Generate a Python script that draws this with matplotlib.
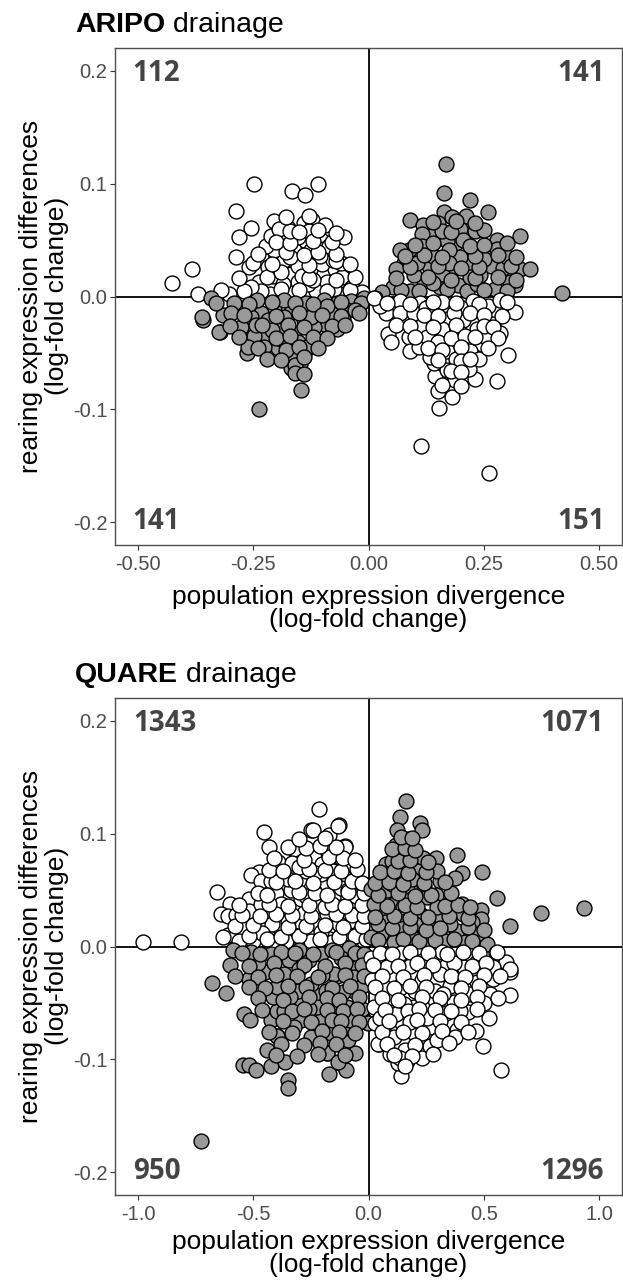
import matplotlib
matplotlib.use('Agg')
import matplotlib.pyplot as plt
from matplotlib.ticker import FixedLocator, FixedFormatter

# ARIPO drainage: (population divergence, rearing difference) per quadrant
aripo_ul = [(-0.249, 0.100), (-0.165, 0.093), (-0.138, 0.090), (-0.110, 0.100), (-0.287, 0.076), (-0.256, 0.061),
            (-0.280, 0.053), (-0.206, 0.067), (-0.174, 0.061), (-0.140, 0.065), (-0.122, 0.068), (-0.094, 0.063),
            (-0.053, 0.053), (-0.141, 0.050), (-0.104, 0.050), (-0.186, 0.044), (-0.287, 0.035), (-0.233, 0.035),
            (-0.260, 0.026), (-0.384, 0.024), (-0.426, 0.012), (-0.370, 0.002), (-0.302, 0.002), (-0.237, 0.013),
            (-0.208, 0.018), (-0.168, 0.020), (-0.136, 0.031), (-0.114, 0.025), (-0.097, 0.020), (-0.073, 0.024),
            (-0.057, 0.017), (-0.035, 0.008), (-0.053, 0.002), (-0.114, 0.005), (-0.174, 0.004), (-0.213, 0.002),
            (-0.154, 0.027), (-0.219, 0.026), (-0.183, 0.032), (-0.100, 0.029), (-0.078, 0.032), (-0.206, 0.041),
            (-0.161, 0.041), (-0.125, 0.041), (-0.097, 0.042), (-0.222, 0.045), (-0.154, 0.053), (-0.212, 0.054),
            (-0.089, 0.013), (-0.132, 0.011), (-0.154, 0.013), (-0.233, 0.005), (-0.186, 0.011), (-0.255, 0.008),
            (-0.075, 0.007), (-0.190, 0.022), (-0.145, 0.018), (-0.120, 0.015), (-0.170, 0.035), (-0.105, 0.036),
            (-0.195, 0.060), (-0.130, 0.058), (-0.060, 0.030), (-0.015, 0.004), (-0.085, 0.045),
            (-0.320, 0.006), (-0.270, 0.005), (-0.190, 0.007), (-0.150, 0.006), (-0.090, 0.005), (-0.040, 0.006),
            (-0.280, 0.016), (-0.220, 0.017), (-0.130, 0.016), (-0.070, 0.015), (-0.030, 0.017), (-0.250, 0.030),
            (-0.210, 0.029), (-0.130, 0.028), (-0.070, 0.031), (-0.040, 0.029), (-0.240, 0.038), (-0.180, 0.039),
            (-0.140, 0.037), (-0.110, 0.039), (-0.070, 0.038), (-0.200, 0.048), (-0.170, 0.047), (-0.120, 0.049),
            (-0.080, 0.048), (-0.170, 0.058), (-0.150, 0.057), (-0.110, 0.059), (-0.070, 0.056), (-0.180, 0.070),
            (-0.130, 0.071)]
aripo_ll = [(-0.237, -0.100), (-0.147, -0.083), (-0.168, -0.063), (-0.148, -0.060), (-0.264, -0.050), (-0.197, -0.046),
            (-0.132, -0.046), (-0.359, -0.021), (-0.323, -0.031), (-0.269, -0.033), (-0.226, -0.037), (-0.161, -0.032),
            (-0.097, -0.024), (-0.069, -0.029), (-0.194, -0.027), (-0.248, -0.035), (-0.316, -0.016), (-0.266, -0.009),
            (-0.205, -0.009), (-0.168, -0.014), (-0.111, -0.011), (-0.068, -0.006), (-0.021, -0.006), (-0.341, -0.001),
            (-0.291, -0.006), (-0.233, -0.015), (-0.140, -0.021), (-0.118, -0.027), (-0.183, -0.018), (-0.219, -0.021),
            (-0.255, -0.018), (-0.298, -0.015), (-0.039, -0.004), (-0.046, -0.012), (-0.082, -0.015), (-0.154, -0.040),
            (-0.183, -0.039), (-0.262, -0.045), (-0.226, -0.045), (-0.111, -0.039), (-0.161, -0.053), (-0.276, -0.027),
            (-0.010, -0.001), (-0.097, -0.003), (-0.136, -0.006), (-0.183, -0.003), (-0.241, -0.003), (-0.160, -0.061),
            (-0.134, -0.045), (-0.017, -0.006), (-0.361, -0.018), (-0.325, -0.031), (-0.210, -0.030), (-0.175, -0.025),
            (-0.125, -0.018), (-0.245, -0.025), (-0.090, -0.008), (-0.055, -0.020), (-0.030, -0.012),
            (-0.330, -0.006), (-0.260, -0.007), (-0.210, -0.005), (-0.160, -0.006), (-0.120, -0.007), (-0.060, -0.005),
            (-0.270, -0.016), (-0.200, -0.017), (-0.150, -0.015), (-0.100, -0.016), (-0.060, -0.017), (-0.020, -0.015),
            (-0.300, -0.026), (-0.230, -0.025), (-0.140, -0.027), (-0.080, -0.026), (-0.050, -0.025), (-0.280, -0.036),
            (-0.200, -0.037), (-0.170, -0.035), (-0.120, -0.036), (-0.090, -0.037), (-0.240, -0.046), (-0.180, -0.047),
            (-0.150, -0.045), (-0.110, -0.046), (-0.220, -0.055), (-0.190, -0.056), (-0.140, -0.054), (-0.160, -0.068),
            (-0.140, -0.069)]
aripo_ur = [(0.168, 0.117), (0.164, 0.092), (0.220, 0.085), (0.260, 0.075), (0.163, 0.075), (0.089, 0.068),
            (0.119, 0.063), (0.212, 0.071), (0.181, 0.070), (0.199, 0.060), (0.231, 0.058), (0.143, 0.055),
            (0.116, 0.055), (0.328, 0.054), (0.278, 0.050), (0.190, 0.047), (0.170, 0.049), (0.116, 0.045),
            (0.087, 0.041), (0.076, 0.030), (0.060, 0.024), (0.132, 0.027), (0.183, 0.024), (0.220, 0.028),
            (0.265, 0.027), (0.292, 0.025), (0.328, 0.024), (0.350, 0.024), (0.317, 0.010), (0.307, 0.013),
            (0.053, 0.008), (0.091, 0.005), (0.121, 0.014), (0.156, 0.008), (0.195, 0.010), (0.213, 0.005),
            (0.235, 0.011), (0.274, 0.007), (0.159, 0.020), (0.098, 0.019), (0.242, 0.019), (0.419, 0.003),
            (0.258, 0.042), (0.141, 0.036), (0.199, 0.035), (0.174, 0.041), (0.278, 0.042), (0.069, 0.041),
            (0.220, 0.017), (0.140, 0.012), (0.175, 0.030), (0.105, 0.030), (0.250, 0.033), (0.030, 0.004),
            (0.300, 0.035), (0.205, 0.050), (0.150, 0.065),
            (0.070, 0.006), (0.110, 0.005), (0.170, 0.007), (0.250, 0.006), (0.300, 0.005), (0.060, 0.016),
            (0.130, 0.017), (0.180, 0.015), (0.230, 0.016), (0.280, 0.017), (0.320, 0.015), (0.090, 0.026),
            (0.150, 0.027), (0.200, 0.025), (0.240, 0.026), (0.310, 0.027), (0.080, 0.036), (0.120, 0.037),
            (0.160, 0.035), (0.230, 0.036), (0.280, 0.037), (0.320, 0.035), (0.100, 0.046), (0.140, 0.047),
            (0.220, 0.045), (0.250, 0.046), (0.300, 0.047), (0.160, 0.058), (0.180, 0.057), (0.250, 0.059),
            (0.140, 0.066), (0.190, 0.067), (0.230, 0.065)]
aripo_lr = [(0.114, -0.132), (0.262, -0.156), (0.152, -0.099), (0.181, -0.089), (0.150, -0.084), (0.188, -0.074),
            (0.230, -0.073), (0.278, -0.075), (0.145, -0.070), (0.143, -0.059), (0.171, -0.057), (0.217, -0.064),
            (0.302, -0.052), (0.042, -0.033), (0.049, -0.040), (0.087, -0.036), (0.116, -0.043), (0.168, -0.035),
            (0.192, -0.040), (0.247, -0.042), (0.271, -0.024), (0.285, -0.032), (0.317, -0.014), (0.039, -0.015),
            (0.136, -0.021), (0.171, -0.020), (0.206, -0.021), (0.235, -0.029), (0.112, -0.027), (0.084, -0.021),
            (0.015, -0.001), (0.026, -0.008), (0.068, -0.004), (0.112, -0.006), (0.159, -0.005), (0.227, -0.004),
            (0.260, -0.008), (0.285, -0.003), (0.130, -0.009), (0.199, -0.009), (0.091, -0.048), (0.109, -0.045),
            (0.170, -0.048), (0.220, -0.048), (0.127, -0.036), (0.159, -0.029), (0.256, -0.036), (0.069, -0.015),
            (0.098, -0.015), (0.199, -0.032), (0.170, -0.065), (0.134, -0.054), (0.012, -0.001), (0.190, -0.055),
            (0.240, -0.055), (0.125, -0.010), (0.060, -0.025), (0.185, -0.015), (0.150, -0.040),
            (0.040, -0.006), (0.090, -0.007), (0.140, -0.005), (0.190, -0.006), (0.240, -0.007), (0.300, -0.005),
            (0.120, -0.016), (0.150, -0.017), (0.220, -0.015), (0.250, -0.016), (0.290, -0.017), (0.090, -0.026),
            (0.140, -0.027), (0.190, -0.025), (0.250, -0.026), (0.270, -0.027), (0.100, -0.036), (0.180, -0.037),
            (0.210, -0.035), (0.230, -0.036), (0.280, -0.037), (0.130, -0.046), (0.160, -0.047), (0.200, -0.045),
            (0.260, -0.046), (0.150, -0.056), (0.200, -0.057), (0.220, -0.055), (0.180, -0.066), (0.200, -0.067),
            (0.160, -0.078), (0.200, -0.079)]

# QUARE drainage
quare_ul = [(-0.978, 0.004), (-0.812, 0.004), (-0.215, 0.122), (-0.455, 0.101), (-0.431, 0.088), (-0.248, 0.103),
            (-0.128, 0.108), (-0.171, 0.099), (-0.104, 0.089), (-0.325, 0.086), (-0.392, 0.075), (-0.330, 0.074),
            (-0.236, 0.079), (-0.200, 0.073), (-0.153, 0.067), (-0.063, 0.068), (-0.474, 0.066), (-0.510, 0.063),
            (-0.467, 0.058), (-0.265, 0.059), (-0.102, 0.061), (-0.657, 0.048), (-0.402, 0.047), (-0.337, 0.050),
            (-0.212, 0.048), (-0.153, 0.043), (-0.056, 0.046), (-0.517, 0.042), (-0.603, 0.038), (-0.642, 0.029),
            (-0.610, 0.027), (-0.575, 0.028), (-0.520, 0.031), (-0.438, 0.029), (-0.315, 0.034), (-0.225, 0.036),
            (-0.294, 0.042), (-0.553, 0.016), (-0.474, 0.019), (-0.390, 0.017), (-0.301, 0.022), (-0.236, 0.020),
            (-0.150, 0.019), (-0.038, 0.014), (-0.610, 0.010), (-0.502, 0.005), (-0.409, 0.004), (-0.323, 0.010),
            (-0.157, 0.004), (-0.078, 0.008), (-0.178, 0.029), (-0.092, 0.029), (-0.063, 0.041), (-0.121, 0.052),
            (-0.178, 0.055), (-0.251, 0.052), (-0.380, 0.038), (-0.467, 0.038), (-0.351, 0.023), (-0.265, 0.011),
            (-0.207, 0.013), (-0.063, 0.023), (-0.150, 0.082), (-0.078, 0.073), (-0.272, 0.067), (-0.423, 0.058),
            (-0.207, 0.064), (-0.131, 0.107), (-0.242, 0.103), (-0.100, 0.088), (-0.054, 0.045), (-0.036, 0.014),
            (-0.280, 0.030), (-0.190, 0.035), (-0.120, 0.035), (-0.350, 0.060), (-0.300, 0.070), (-0.180, 0.085),
            (-0.120, 0.078), (-0.420, 0.020), (-0.270, 0.045), (-0.230, 0.065), (-0.130, 0.020), (-0.090, 0.050),
            (-0.045, 0.029), (-0.560, 0.005), (-0.460, 0.012), (-0.360, 0.005), (-0.250, 0.005), (-0.100, 0.012),
            (-0.020, 0.005),
            (-0.630, 0.008), (-0.520, 0.009), (-0.440, 0.007), (-0.380, 0.008), (-0.300, 0.009), (-0.210, 0.007),
            (-0.130, 0.008), (-0.060, 0.009), (-0.010, 0.007), (-0.580, 0.018), (-0.500, 0.019), (-0.350, 0.017),
            (-0.270, 0.018), (-0.190, 0.019), (-0.110, 0.017), (-0.030, 0.018), (-0.550, 0.028), (-0.470, 0.027),
            (-0.400, 0.029), (-0.330, 0.028), (-0.250, 0.027), (-0.140, 0.029), (-0.070, 0.028), (-0.020, 0.027),
            (-0.560, 0.037), (-0.430, 0.038), (-0.350, 0.036), (-0.260, 0.037), (-0.160, 0.038), (-0.100, 0.036),
            (-0.030, 0.037), (-0.480, 0.047), (-0.440, 0.046), (-0.300, 0.048), (-0.230, 0.047), (-0.180, 0.046),
            (-0.090, 0.048), (-0.020, 0.047), (-0.400, 0.057), (-0.320, 0.058), (-0.240, 0.056), (-0.150, 0.057),
            (-0.070, 0.058), (-0.030, 0.056), (-0.430, 0.068), (-0.370, 0.067), (-0.260, 0.069), (-0.190, 0.068),
            (-0.120, 0.067), (-0.050, 0.069), (-0.410, 0.078), (-0.280, 0.077), (-0.170, 0.079), (-0.110, 0.078),
            (-0.060, 0.077), (-0.350, 0.088), (-0.270, 0.087), (-0.210, 0.089), (-0.140, 0.088), (-0.300, 0.095),
            (-0.190, 0.096)]
quare_ll = [(-0.726, -0.172), (-0.678, -0.032), (-0.618, -0.041), (-0.517, -0.029), (-0.541, -0.060), (-0.514, -0.065),
            (-0.395, -0.079), (-0.442, -0.092), (-0.546, -0.105), (-0.517, -0.105), (-0.488, -0.109), (-0.423, -0.106),
            (-0.361, -0.102), (-0.351, -0.118), (-0.351, -0.125), (-0.171, -0.113), (-0.124, -0.103), (-0.099, -0.109),
            (-0.059, -0.094), (-0.178, -0.094), (-0.088, -0.083), (-0.248, -0.080), (-0.161, -0.077), (-0.104, -0.072),
            (-0.294, -0.065), (-0.423, -0.065), (-0.395, -0.057), (-0.323, -0.071), (-0.207, -0.065), (-0.092, -0.054),
            (-0.013, -0.067), (-0.027, -0.055), (-0.416, -0.045), (-0.294, -0.049), (-0.229, -0.043), (-0.186, -0.039),
            (-0.135, -0.026), (-0.045, -0.018), (-0.251, -0.033), (-0.344, -0.012), (-0.258, -0.012), (-0.366, -0.024),
            (-0.448, -0.023), (-0.481, -0.015), (-0.589, -0.003), (-0.510, -0.005), (-0.423, -0.007), (-0.207, -0.007),
            (-0.085, -0.001), (-0.035, -0.007), (-0.308, -0.039), (-0.395, -0.036), (-0.150, -0.054), (-0.222, -0.054),
            (-0.366, -0.057), (-0.063, -0.039), (-0.150, -0.024), (-0.063, -0.027), (-0.002, -0.068), (-0.397, -0.079),
            (-0.182, -0.094), (-0.131, -0.102), (-0.300, -0.020), (-0.200, -0.025), (-0.110, -0.040), (-0.260, -0.055),
            (-0.340, -0.045), (-0.030, -0.035), (-0.120, -0.010), (-0.300, -0.003), (-0.160, -0.003), (-0.010, -0.020),
            (-0.080, -0.065),
            (-0.550, -0.006), (-0.470, -0.007), (-0.380, -0.005), (-0.320, -0.006), (-0.240, -0.007), (-0.140, -0.005),
            (-0.060, -0.006), (-0.020, -0.007), (-0.600, -0.016), (-0.520, -0.017), (-0.410, -0.015), (-0.280, -0.016),
            (-0.190, -0.017), (-0.100, -0.015), (-0.030, -0.016), (-0.580, -0.026), (-0.480, -0.027), (-0.400, -0.025),
            (-0.310, -0.026), (-0.220, -0.027), (-0.100, -0.025), (-0.020, -0.026), (-0.520, -0.036), (-0.450, -0.037),
            (-0.350, -0.035), (-0.270, -0.036), (-0.160, -0.037), (-0.080, -0.035), (-0.480, -0.046), (-0.370, -0.047),
            (-0.260, -0.045), (-0.180, -0.046), (-0.130, -0.047), (-0.040, -0.045), (-0.460, -0.056), (-0.330, -0.057),
            (-0.280, -0.055), (-0.180, -0.056), (-0.110, -0.057), (-0.050, -0.055), (-0.370, -0.066), (-0.250, -0.067),
            (-0.160, -0.065), (-0.120, -0.066), (-0.040, -0.067), (-0.430, -0.076), (-0.330, -0.077), (-0.200, -0.075),
            (-0.130, -0.076), (-0.060, -0.077), (-0.380, -0.086), (-0.280, -0.087), (-0.210, -0.085), (-0.140, -0.086),
            (-0.400, -0.096), (-0.310, -0.097), (-0.220, -0.095), (-0.100, -0.096)]
quare_ur = [(0.163, 0.129), (0.138, 0.115), (0.222, 0.109), (0.232, 0.103), (0.124, 0.103), (0.167, 0.095),
            (0.121, 0.090), (0.146, 0.081), (0.236, 0.078), (0.294, 0.078), (0.383, 0.081), (0.491, 0.066),
            (0.405, 0.065), (0.376, 0.061), (0.311, 0.058), (0.556, 0.043), (0.750, 0.030), (0.934, 0.034),
            (0.613, 0.018), (0.487, 0.032), (0.487, 0.024), (0.448, 0.022), (0.513, 0.002), (0.012, 0.051),
            (0.078, 0.073), (0.102, 0.076), (0.167, 0.052), (0.239, 0.053), (0.294, 0.046), (0.350, 0.038),
            (0.405, 0.038), (0.311, 0.026), (0.225, 0.029), (0.174, 0.041), (0.109, 0.038), (0.037, 0.038),
            (0.073, 0.030), (0.073, 0.022), (0.150, 0.016), (0.055, 0.011), (0.189, 0.008), (0.318, 0.011),
            (0.383, 0.014), (0.354, 0.020), (0.268, 0.017), (0.254, 0.004), (0.109, 0.004), (0.009, 0.008),
            (0.297, 0.067), (0.210, 0.067), (0.138, 0.067), (0.254, 0.044), (0.052, 0.061), (0.412, 0.029),
            (0.470, 0.011), (0.138, 0.029), (0.297, 0.035), (0.024, 0.038), (0.080, 0.050), (0.200, 0.020),
            (0.190, 0.060), (0.100, 0.055), (0.330, 0.005), (0.040, 0.020), (0.420, 0.004), (0.150, 0.035),
            (0.040, 0.006), (0.150, 0.007), (0.220, 0.005), (0.290, 0.006), (0.370, 0.007), (0.450, 0.005),
            (0.100, 0.016), (0.180, 0.017), (0.250, 0.015), (0.310, 0.016), (0.430, 0.017), (0.500, 0.015),
            (0.030, 0.026), (0.110, 0.027), (0.180, 0.025), (0.260, 0.026), (0.350, 0.027), (0.430, 0.025),
            (0.080, 0.036), (0.160, 0.037), (0.210, 0.035), (0.330, 0.036), (0.390, 0.037), (0.440, 0.035),
            (0.040, 0.046), (0.130, 0.047), (0.200, 0.045), (0.270, 0.046), (0.360, 0.047), (0.030, 0.056),
            (0.090, 0.057), (0.150, 0.055), (0.240, 0.056), (0.330, 0.057), (0.050, 0.066), (0.110, 0.067),
            (0.170, 0.065), (0.250, 0.066), (0.130, 0.076), (0.180, 0.077), (0.260, 0.075), (0.100, 0.086),
            (0.160, 0.087), (0.200, 0.085), (0.140, 0.097), (0.190, 0.096)]
quare_lr = [(0.577, -0.109), (0.141, -0.115), (0.127, -0.103), (0.160, -0.092), (0.232, -0.099), (0.268, -0.088),
            (0.498, -0.088), (0.467, -0.075), (0.386, -0.074), (0.524, -0.063), (0.433, -0.058), (0.337, -0.059),
            (0.069, -0.077), (0.045, -0.086), (0.146, -0.068), (0.095, -0.057), (0.613, -0.043), (0.527, -0.042),
            (0.369, -0.049), (0.289, -0.047), (0.203, -0.039), (0.135, -0.037), (0.088, -0.046), (0.613, -0.023),
            (0.539, -0.029), (0.470, -0.031), (0.416, -0.018), (0.470, -0.014), (0.553, -0.006), (0.595, -0.014),
            (0.095, -0.025), (0.045, -0.032), (0.141, -0.006), (0.232, -0.013), (0.289, -0.008), (0.354, -0.035),
            (0.289, -0.039), (0.311, -0.024), (0.196, -0.027), (0.037, -0.011), (0.066, -0.036), (0.023, -0.054),
            (0.030, -0.068), (0.109, -0.080), (0.196, -0.077), (0.268, -0.071), (0.196, -0.054), (0.254, -0.063),
            (0.397, -0.057), (0.325, -0.042), (0.441, -0.042), (0.541, -0.018), (0.369, -0.015), (0.181, -0.017),
            (0.081, -0.018), (0.153, -0.051), (0.052, -0.063), (0.297, -0.083), (0.376, -0.080), (0.167, -0.101),
            (0.095, -0.095), (0.041, -0.086), (0.058, -0.076), (0.135, -0.099), (0.556, -0.005), (0.616, -0.020),
            (0.010, -0.010), (0.015, -0.030), (0.120, -0.060), (0.230, -0.030), (0.400, -0.030), (0.500, -0.050),
            (0.320, -0.005),
            (0.050, -0.006), (0.100, -0.007), (0.180, -0.005), (0.260, -0.006), (0.340, -0.007), (0.410, -0.005),
            (0.480, -0.006), (0.020, -0.016), (0.130, -0.017), (0.210, -0.015), (0.280, -0.016), (0.450, -0.017),
            (0.510, -0.015), (0.060, -0.026), (0.150, -0.027), (0.240, -0.025), (0.360, -0.026), (0.420, -0.027),
            (0.500, -0.025), (0.570, -0.026), (0.030, -0.036), (0.110, -0.037), (0.180, -0.035), (0.250, -0.036),
            (0.400, -0.037), (0.480, -0.035), (0.060, -0.046), (0.130, -0.047), (0.230, -0.045), (0.310, -0.046),
            (0.400, -0.047), (0.470, -0.045), (0.560, -0.046), (0.070, -0.056), (0.170, -0.057), (0.220, -0.055),
            (0.290, -0.056), (0.360, -0.057), (0.470, -0.055), (0.090, -0.066), (0.180, -0.067), (0.210, -0.065),
            (0.310, -0.066), (0.400, -0.067), (0.150, -0.076), (0.230, -0.077), (0.320, -0.075), (0.430, -0.076),
            (0.080, -0.086), (0.200, -0.087), (0.350, -0.085), (0.110, -0.096), (0.190, -0.097), (0.280, -0.095),
            (0.160, -0.106)]

# quadrant counts (upper-left, upper-right, lower-left, lower-right)
aripo_counts = ['112', '141', '141', '151']
quare_counts = ['1343', '1071', '950', '1296']

aripo_xticks = [-0.5, -0.25, 0.0, 0.25, 0.5]
aripo_xlabels = ['-0.50', '-0.25', '0.00', '0.25', '0.50']
quare_xticks = [-1.0, -0.5, 0.0, 0.5, 1.0]
quare_xlabels = ['-1.0', '-0.5', '0.0', '0.5', '1.0']
yticks = [-0.2, -0.1, 0.0, 0.1, 0.2]
ylabels = ['-0.2', '-0.1', '0.0', '0.1', '0.2']

GREY = '#999999'
W, H = 623, 1281


def draw_panel(ax, quads, counts, xticks, xlabels, xlim, xoff):
    # concordant quadrants are grey, discordant are white
    fills = ['white', GREY, GREY, 'white']
    for pts, fc in zip(quads, fills):
        xs = [p[0] for p in pts]
        ys = [p[1] for p in pts]
        ax.scatter(xs, ys, s=115, facecolor=fc, edgecolor='black', linewidth=1.0, zorder=3)
    ax.axhline(0, color='black', lw=1.3, zorder=2)
    ax.axvline(0, color='black', lw=1.3, zorder=2)
    ax.set_xlim(xlim)
    ax.set_ylim(-0.22, 0.22)
    ax.xaxis.set_major_locator(FixedLocator(xticks))
    ax.xaxis.set_major_formatter(FixedFormatter(xlabels))
    ax.yaxis.set_major_locator(FixedLocator(yticks))
    ax.yaxis.set_major_formatter(FixedFormatter(ylabels))
    ax.tick_params(length=3.5, width=0.8, color='#333333', labelcolor='#4D4D4D', labelsize=14.5)
    ax.tick_params(axis='x', pad=4)
    ax.tick_params(axis='y', pad=2)
    for lab in ax.get_xticklabels() + ax.get_yticklabels():
        lab.set_family('Liberation Sans')
    for sp in ax.spines.values():
        sp.set_color('#4D4D4D')
        sp.set_linewidth(1.0)
    kw = dict(fontsize=20, fontweight='bold', color='#444444', family='Open Sans', va='center', zorder=4)
    ax.text(-xoff, 0.197, counts[0], ha='left', **kw)
    ax.text(xoff, 0.197, counts[1], ha='right', **kw)
    ax.text(-xoff, -0.199, counts[2], ha='left', **kw)
    ax.text(xoff, -0.199, counts[3], ha='right', **kw)


def title(fig, y, bold, rest):
    t = fig.text(75 / W, y, bold, fontsize=20.5, fontweight='bold', family='Liberation Sans', va='baseline')
    r = fig.canvas.get_renderer()
    bb = t.get_window_extent(renderer=r)
    fig.text(bb.x1 / W, y, ' ' + rest, fontsize=20.5, family='Liberation Sans', va='baseline')


fig = plt.figure(figsize=(W / 100, H / 100), dpi=100)
left = 115 / W
width = 622 / W - left
ax1 = fig.add_axes([left, 1 - 545 / H, width, 497 / H])
ax2 = fig.add_axes([left, 1 - 1195 / H, width, 497 / H])

draw_panel(ax1, [aripo_ul, aripo_ur, aripo_ll, aripo_lr], aripo_counts,
           aripo_xticks, aripo_xlabels, (-0.55, 0.55), 0.512)
draw_panel(ax2, [quare_ul, quare_ur, quare_ll, quare_lr], quare_counts,
           quare_xticks, quare_xlabels, (-1.1, 1.1), 1.02)

title(fig, 1 - 32 / H, 'ARIPO', 'drainage')
title(fig, 1 - 682 / H, 'QUARE', 'drainage')

cx = (left + 622 / W) / 2
xl_kw = dict(fontsize=19, family='Liberation Sans', ha='center', va='top', linespacing=0.95)
fig.text(cx, 1 - 585 / H, 'population expression divergence\n(log-fold change)', **xl_kw)
fig.text(cx, 1 - 1230 / H, 'population expression divergence\n(log-fold change)', **xl_kw)
yl_kw = dict(fontsize=19, family='Liberation Sans', ha='center', va='center', rotation=90, linespacing=1.15)
fig.text(44 / W, 1 - 296 / H, 'rearing expression differences\n(log-fold change)', **yl_kw)
fig.text(44 / W, 1 - 946 / H, 'rearing expression differences\n(log-fold change)', **yl_kw)

fig.savefig('out.png', dpi=100)
